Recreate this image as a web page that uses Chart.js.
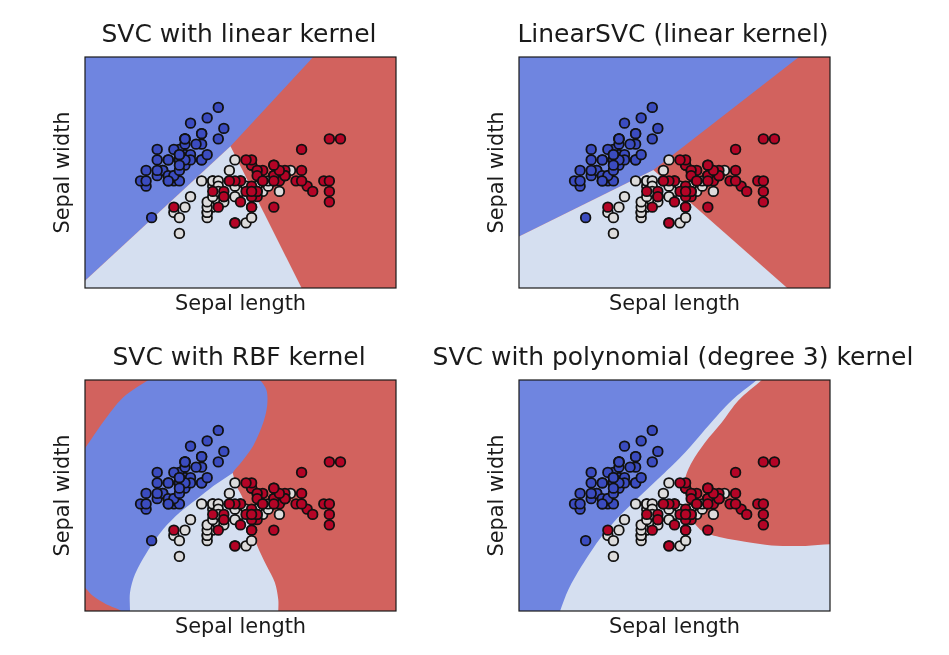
<!DOCTYPE html>
<html>
<head>
<meta charset="utf-8">
<script src="https://cdn.jsdelivr.net/npm/chart.js@4"></script>
<style>
  html, body { margin: 0; background: #fff; }
  canvas { position: absolute; filter: blur(0.45px); }
</style>
</head>
<body>
<canvas id="c0"></canvas>
<canvas id="c1"></canvas>
<canvas id="c2"></canvas>
<canvas id="c3"></canvas>
<script>
// iris: sepal length / sepal width
const setosa = [[5.1,3.5],[4.9,3.0],[4.7,3.2],[4.6,3.1],[5.0,3.6],[5.4,3.9],[4.6,3.4],[5.0,3.4],[4.4,2.9],[4.9,3.1],[5.4,3.7],[4.8,3.4],[4.8,3.0],[4.3,3.0],[5.8,4.0],[5.7,4.4],[5.4,3.9],[5.1,3.5],[5.7,3.8],[5.1,3.8],[5.4,3.4],[5.1,3.7],[4.6,3.6],[5.1,3.3],[4.8,3.4],[5.0,3.0],[5.0,3.4],[5.2,3.5],[5.2,3.4],[4.7,3.2],[4.8,3.1],[5.4,3.4],[5.2,4.1],[5.5,4.2],[4.9,3.1],[5.0,3.2],[5.5,3.5],[4.9,3.6],[4.4,3.0],[5.1,3.4],[5.0,3.5],[4.5,2.3],[4.4,3.2],[5.0,3.5],[5.1,3.8],[4.8,3.0],[5.1,3.8],[4.6,3.2],[5.3,3.7],[5.0,3.3]];
const versicolor = [[7.0,3.2],[6.4,3.2],[6.9,3.1],[5.5,2.3],[6.5,2.8],[5.7,2.8],[6.3,3.3],[4.9,2.4],[6.6,2.9],[5.2,2.7],[5.0,2.0],[5.9,3.0],[6.0,2.2],[6.1,2.9],[5.6,2.9],[6.7,3.1],[5.6,3.0],[5.8,2.7],[6.2,2.2],[5.6,2.5],[5.9,3.2],[6.1,2.8],[6.3,2.5],[6.1,2.8],[6.4,2.9],[6.6,3.0],[6.8,2.8],[6.7,3.0],[6.0,2.9],[5.7,2.6],[5.5,2.4],[5.5,2.4],[5.8,2.7],[6.0,2.7],[5.4,3.0],[6.0,3.4],[6.7,3.1],[6.3,2.3],[5.6,3.0],[5.5,2.5],[5.5,2.6],[6.1,3.0],[5.8,2.6],[5.0,2.3],[5.6,2.7],[5.7,3.0],[5.7,2.9],[6.2,2.9],[5.1,2.5],[5.7,2.8]];
const virginica = [[6.3,3.3],[5.8,2.7],[7.1,3.0],[6.3,2.9],[6.5,3.0],[7.6,3.0],[4.9,2.5],[7.3,2.9],[6.7,2.5],[7.2,3.6],[6.5,3.2],[6.4,2.7],[6.8,3.0],[5.7,2.5],[5.8,2.8],[6.4,3.2],[6.5,3.0],[7.7,3.8],[7.7,2.6],[6.0,2.2],[6.9,3.2],[5.6,2.8],[7.7,2.8],[6.3,2.7],[6.7,3.3],[7.2,3.2],[6.2,2.8],[6.1,3.0],[6.4,2.8],[7.2,3.0],[7.4,2.8],[7.9,3.8],[6.4,2.8],[6.3,2.8],[6.1,2.6],[7.7,3.0],[6.3,3.4],[6.4,3.1],[6.0,3.0],[6.9,3.1],[6.7,3.1],[6.9,3.1],[5.8,2.7],[6.8,3.2],[6.7,3.3],[6.7,3.0],[6.3,2.5],[6.5,3.0],[6.2,3.4],[5.9,3.0]];

// decision regions (curved ones run past the plot and get clipped)
const plane = [[3.3,5.36],[8.9,5.36],[8.9,0.96],[3.3,0.96]];
const linearBlue = [[3.3,5.36],[7.41,5.36],[5.92,3.66],[3.3,1.10]];
const linearLight = [[3.3,1.10],[5.92,3.66],[7.20,0.96],[3.3,0.96]];
const linSvcBlue = [[3.3,5.36],[8.34,5.36],[5.72,3.21],[3.3,1.94]];
const linSvcLight = [[3.3,1.94],[5.72,3.21],[8.13,0.96],[3.3,0.96]];
const rbfBlue = [[2.8,3.4],[3.3,4.06],[3.62,4.55],[3.99,5.03],[4.44,5.36],[4.9,5.65],[6.1,5.65],[6.45,5.36],[6.57,5.16],[6.58,4.87],[6.51,4.55],[6.33,4.11],[6.09,3.76],[5.96,3.59],[5.5,2.5],[5.0,0.4],[4.5,0.4],[3.95,0.96],[3.68,1.09],[3.44,1.25],[3.3,1.41],[2.9,1.9]];
const rbfLight = [[5.96,3.59],[6.03,3.34],[6.15,3.09],[6.30,2.58],[6.39,2.23],[6.57,1.82],[6.72,1.50],[6.78,1.18],[6.78,0.96],[6.76,0.5],[4.1,0.5],[4.11,0.96],[4.11,1.31],[4.20,1.66],[4.41,2.07],[4.71,2.52],[5.01,2.84],[5.31,3.09],[5.61,3.34]];
const polyBlue = [[3.0,6.0],[8.05,5.8],[7.58,5.36],[7.13,4.97],[6.71,4.49],[6.29,3.98],[5.87,3.54],[5.45,3.12],[5.03,2.68],[4.73,2.30],[4.43,1.82],[4.19,1.37],[4.04,0.96],[3.9,0.5],[3.0,0.5]];
const polyRed = [[9.6,2.25],[8.9,2.23],[8.46,2.20],[7.85,2.21],[7.37,2.28],[6.95,2.36],[6.59,2.49],[6.38,2.77],[6.31,3.09],[6.29,3.47],[6.41,3.79],[6.65,4.17],[6.95,4.55],[7.25,4.97],[7.67,5.36],[8.1,5.8],[9.6,5.8]];

const titles = ['SVC with linear kernel', 'LinearSVC (linear kernel)', 'SVC with RBF kernel', 'SVC with polynomial (degree 3) kernel'];
const xLabel = 'Sepal length';
const yLabel = 'Sepal width';

const BLUE = '#6f85e0', LIGHT = '#d5dff0', RED = '#d2625e';
const regions = [
    [[plane, RED], [linearBlue, BLUE], [linearLight, LIGHT]],
    [[plane, RED], [linSvcBlue, BLUE], [linSvcLight, LIGHT]],
    [[plane, RED], [rbfBlue, BLUE], [rbfLight, LIGHT]],
    [[plane, LIGHT], [polyBlue, BLUE], [polyRed, RED]],
];

// canvas box for each panel; the plot sits 1.5px right of its centre, as the titles do in the picture
const boxes = [
    { cx: 239, top: 10, half: 220 },
    { cx: 673, top: 10, half: 245 },
    { cx: 239, top: 332.5, half: 220 },
    { cx: 673, top: 332.5, half: 245 },
];
const plotShift = 1.5;

const toXY = (pts) => pts.map(([x, y]) => ({ x, y }));

const frame = {
    id: 'frame',
    afterDatasetsDraw(chart) {
        const a = chart.chartArea;
        const ctx = chart.ctx;
        ctx.save();
        ctx.strokeStyle = '#1a1a1a';
        ctx.lineWidth = 1.2;
        ctx.strokeRect(a.left, a.top, a.right - a.left, a.bottom - a.top);
        ctx.restore();
    },
};

function pointSet(pts, color, order) {
    return {
        data: toXY(pts),
        order,
        pointRadius: 4.8,
        pointHoverRadius: 4.8,
        pointBackgroundColor: color,
        pointBorderColor: '#111',
        pointBorderWidth: 1.8,
    };
}

titles.forEach((title, i) => {
    const box = boxes[i];
    const margin = box.half - 155.5;
    const el = document.getElementById('c' + i);
    el.width = box.half * 2;
    el.height = 310;
    el.style.left = box.cx - box.half + 'px';
    el.style.top = box.top + 'px';
    el.style.width = box.half * 2 + 'px';
    el.style.height = '310px';

    const polys = regions[i].map(([pts, color], k) => ({
        data: toXY(pts),
        showLine: true,
        fill: 'shape',
        backgroundColor: color,
        borderWidth: 0,
        pointRadius: 0,
        tension: i >= 2 && k > 0 ? 0.3 : 0,
        capBezierPoints: false,
        order: 10 - k,
    }));

    new Chart(el, {
        type: 'scatter',
        data: {
            datasets: [
                pointSet(virginica, '#b40426', 0),
                pointSet(versicolor, '#dddcdc', 1),
                pointSet(setosa, '#3b4cc0', 2),
                ...polys,
            ],
        },
        options: {
            responsive: false,
            animation: false,
            layout: { padding: 0 },
            plugins: {
                legend: { display: false },
                tooltip: { enabled: false },
                title: {
                    display: true,
                    text: title,
                    color: '#1a1a1a',
                    font: { family: 'DejaVu Sans', size: 25, weight: 'normal' },
                    padding: { top: 10, bottom: 7 },
                },
            },
            scales: {
                x: {
                    min: 3.3,
                    max: 8.9,
                    grid: { display: false },
                    border: { display: false },
                    ticks: { display: false },
                    title: {
                        display: true,
                        text: xLabel,
                        color: '#1a1a1a',
                        font: { family: 'DejaVu Sans', size: 20.9 },
                        padding: { top: 2, bottom: 2.5 },
                    },
                    afterFit: (s) => { s.height = 32; },
                },
                y: {
                    min: 0.96,
                    max: 5.36,
                    grid: { display: false },
                    border: { display: false },
                    ticks: { display: false },
                    title: {
                        display: true,
                        text: yLabel,
                        color: '#1a1a1a',
                        font: { family: 'DejaVu Sans', size: 20.9 },
                        padding: { top: margin + plotShift - 33.5, bottom: 0 },
                    },
                    afterFit: (s) => { s.width = margin + plotShift; },
                },
                // empty right axis, only keeps the plot in place under the title
                yr: {
                    position: 'right',
                    grid: { display: false },
                    border: { display: false },
                    ticks: { display: false },
                    afterFit: (s) => { s.width = margin - plotShift; },
                },
            },
        },
        plugins: [frame],
    });
});
</script>
</body>
</html>
